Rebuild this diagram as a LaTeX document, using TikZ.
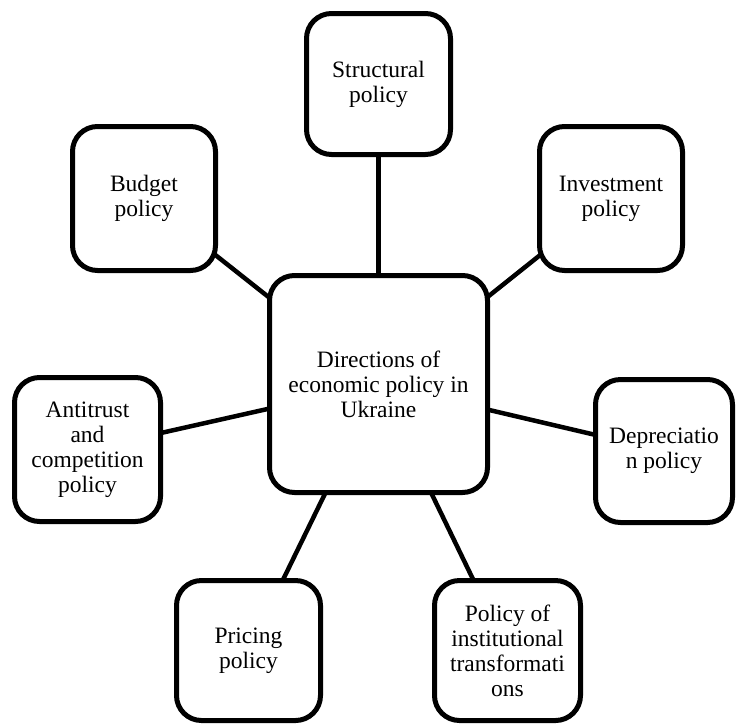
\documentclass[tikz,border=0pt]{standalone}
\usepackage{fontspec}
\setmainfont{Liberation Serif}
\usepackage{tikz}
\usetikzlibrary{backgrounds}
\tikzset{policy/.style = {draw, fill=white, line width=5pt, rounded corners=25pt,
                          align=center, inner sep=0pt,
                          font=\fontsize{23.5}{25}\selectfont},
         link/.style = {line width=4.5pt}}

\begin{document}
\begin{tikzpicture}[x=1pt, y=-1pt]
      \useasboundingbox (0, 0) rectangle (736, 724);

      \node [policy, minimum width=218pt, minimum height=217pt] (dir) at (378.5, 384) {Directions of\\economic policy in\\Ukraine};

      \node [policy, minimum width=144pt, minimum height=141pt] (struct) at (378.5, 84) {Structural\\policy};
      \node [policy, minimum width=143pt, minimum height=144pt] (budget) at (144, 198.5) {Budget\\policy};
      \node [policy, minimum width=143pt, minimum height=144pt] (invest) at (611, 198.5) {Investment\\policy};
      \node [policy, minimum width=146pt, minimum height=144pt] (antitrust) at (87.5, 449.5) {Antitrust\\and\\competition\\policy};
      \node [policy, minimum width=137pt, minimum height=143pt] (deprec) at (664, 451) {Depreciatio\\n policy};
      \node [policy, minimum width=144pt, minimum height=140pt] (pricing) at (248.5, 650.5) {Pricing\\policy};
      \node [policy, minimum width=146pt, minimum height=140pt] (inst) at (507.5, 650.5) {Policy of\\institutional\\transformati\\ons};

      \begin{scope}[on background layer]
        \foreach \n in {struct, budget, invest, antitrust, deprec, pricing, inst}
          \draw [link] (dir.center) -- (\n.center);
      \end{scope}
    \end{tikzpicture}
\end{document}
